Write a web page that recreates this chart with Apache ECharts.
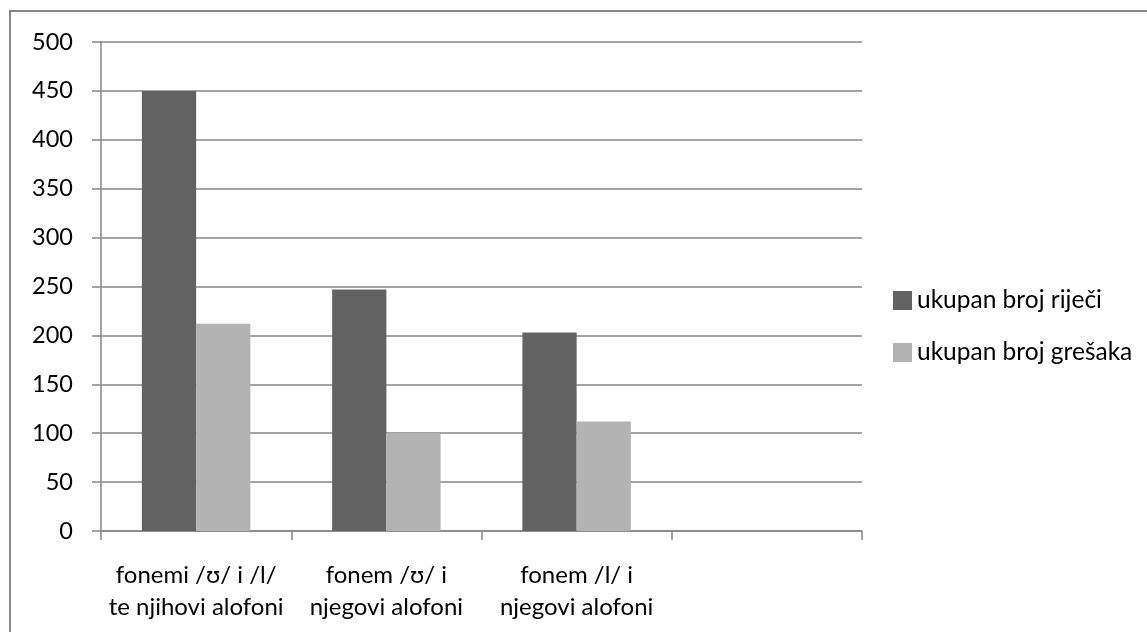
<!DOCTYPE html>
<html>
<head>
<meta charset="utf-8">
<script src="https://cdn.jsdelivr.net/npm/echarts@6/dist/echarts.min.js"></script>
<style>
  html, body { margin: 0; padding: 0; background: #fff; }
  #chart { width: 1147px; height: 632px; }
</style>
</head>
<body>
<div id="chart"></div>
<script>
// Categories (the fourth slot is left empty on purpose)
const categories = ['fonemi /ʊ/ i /l/\nte njihovi alofoni', 'fonem /ʊ/ i\nnjegovi alofoni', 'fonem /l/ i\nnjegovi alofoni', ''];
const seriesNames = ['ukupan broj riječi', 'ukupan broj grešaka'];
const totalWords = [450, 247, 203, null];
const totalErrors = [212, 100, 112, null];
const yTicks = { min: 0, max: 500, interval: 50 };

const FONT = 'Lato, "Open Sans", sans-serif';
const GRID = '#878787';

const chart = echarts.init(document.getElementById('chart'), null, { renderer: 'canvas' });
chart.setOption({
  backgroundColor: '#ffffff',
  animation: false,
  graphic: [{
    type: 'rect',
    shape: { x: 10, y: 11, width: 1400, height: 1400 },
    style: { fill: 'none', stroke: GRID, lineWidth: 2 },
    silent: true
  }],
  grid: { left: 101, right: 285, top: 42, bottom: 101, containLabel: false },
  legend: {
    orient: 'vertical',
    left: 888,
    top: 283,
    itemWidth: 19,
    itemHeight: 19,
    itemGap: 27,
    icon: 'rect',
    textStyle: { fontFamily: FONT, fontSize: 24.5, color: '#000' },
    data: seriesNames
  },
  xAxis: {
    type: 'category',
    data: categories,
    axisLine: { lineStyle: { color: GRID, width: 1.5 } },
    axisTick: { show: true, length: 9, lineStyle: { color: GRID, width: 1.5 } },
    axisLabel: {
      interval: 0,
      margin: 28,
      color: '#000',
      fontFamily: FONT,
      fontSize: 24,
      lineHeight: 32,
      align: 'center'
    }
  },
  yAxis: {
    type: 'value',
    min: yTicks.min,
    max: yTicks.max,
    interval: yTicks.interval,
    axisLine: { show: true, lineStyle: { color: GRID, width: 1.5 } },
    axisTick: { show: true, length: 9, lineStyle: { color: GRID, width: 1.5 } },
    axisLabel: { margin: 28, color: '#000', fontFamily: FONT, fontSize: 23.5 },
    splitLine: { lineStyle: { color: GRID, width: 1.5 } }
  },
  series: [
    {
      name: seriesNames[0],
      type: 'bar',
      data: totalWords,
      barGap: '0%',
      barCategoryGap: '43%',
      itemStyle: { color: '#626262' }
    },
    {
      name: seriesNames[1],
      type: 'bar',
      data: totalErrors,
      barGap: '0%',
      barCategoryGap: '43%',
      itemStyle: { color: '#b3b3b3' }
    }
  ]
});
</script>
</body>
</html>
